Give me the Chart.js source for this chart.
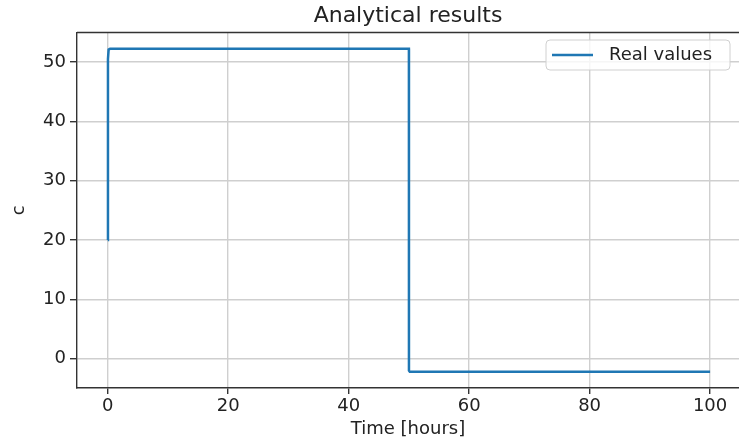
<!DOCTYPE html>
<html>
<head>
<meta charset="utf-8">
<script src="https://cdn.jsdelivr.net/npm/chart.js@4.4.0/dist/chart.umd.min.js"></script>
<style>
  html, body { margin: 0; padding: 0; background: #ffffff; }
  #wrap { width: 739px; height: 443px; }
</style>
</head>
<body>
<div id="wrap"><canvas id="c" width="739" height="443"></canvas></div>
<script>
// ---- data ----
const chartTitle = "Analytical results";
const seriesLabel = "Real values";
const xTitle = "Time [hours]";
const yTitle = "c";
const times  = [0, 0.04, 0.15, 0.4, 50, 50.01, 50.15, 100];
const values = [20, 50.5, 52.1, 52.26, 52.26, -2.0, -2.2, -2.2];
const xTicks = [0, 20, 40, 60, 80, 100];
const yTicks = [0, 10, 20, 30, 40, 50];

const FONT = "DejaVu Sans";
const points = times.map((t, i) => ({ x: t, y: values[i] }));

const frame = {
  id: 'frame',
  afterDraw(chart) {
    const { ctx, chartArea: a } = chart;
    ctx.save();
    // title centred over the plot area
    ctx.fillStyle = '#222222';
    ctx.font = '22px "' + FONT + '"';
    ctx.textAlign = 'center';
    ctx.textBaseline = 'middle';
    ctx.fillText(chartTitle, (a.left + a.right) / 2, 16);
    // top spine
    ctx.strokeStyle = '#333333';
    ctx.lineWidth = 1.4;
    ctx.beginPath();
    ctx.moveTo(a.left, a.top);
    ctx.lineTo(a.right, a.top);
    ctx.stroke();
    // legend box
    const ds = chart.data.datasets[0];
    const bx = 546, by = 40, bw = 184, bh = 30, r = 4;
    ctx.beginPath();
    ctx.moveTo(bx + r, by);
    ctx.lineTo(bx + bw - r, by);
    ctx.quadraticCurveTo(bx + bw, by, bx + bw, by + r);
    ctx.lineTo(bx + bw, by + bh - r);
    ctx.quadraticCurveTo(bx + bw, by + bh, bx + bw - r, by + bh);
    ctx.lineTo(bx + r, by + bh);
    ctx.quadraticCurveTo(bx, by + bh, bx, by + bh - r);
    ctx.lineTo(bx, by + r);
    ctx.quadraticCurveTo(bx, by, bx + r, by);
    ctx.closePath();
    ctx.fillStyle = 'rgba(255,255,255,0.8)';
    ctx.fill();
    ctx.strokeStyle = '#d0d0d0';
    ctx.lineWidth = 1;
    ctx.stroke();
    ctx.strokeStyle = ds.borderColor;
    ctx.lineWidth = 2.5;
    ctx.beginPath();
    ctx.moveTo(552, 55);
    ctx.lineTo(593, 55);
    ctx.stroke();
    ctx.fillStyle = '#222222';
    ctx.font = '18px "' + FONT + '"';
    ctx.textBaseline = 'middle';
    ctx.textAlign = 'left';
    ctx.fillText(ds.label, 609, 55);
    ctx.restore();
  }
};

new Chart(document.getElementById('c'), {
  type: 'line',
  data: {
    datasets: [{
      label: seriesLabel,
      data: points,
      borderColor: '#1f77b4',
      backgroundColor: '#1f77b4',
      borderWidth: 2.5,
      pointRadius: 0,
      tension: 0,
      fill: false,
      borderJoinStyle: 'miter'
    }]
  },
  options: {
    responsive: false,
    animation: false,
    devicePixelRatio: 1,
    layout: { padding: { left: 0, right: 0, top: 32.5, bottom: 0 } },
    plugins: {
      legend: { display: false },
      tooltip: { enabled: false },
      title: { display: false }
    },
    scales: {
      x: {
        type: 'linear',
        min: -5.1,
        max: 104.8,
        afterBuildTicks: s => { s.ticks = xTicks.map(v => ({ value: v })); },
        afterFit: s => { s.height = 55; },
        grid: { color: '#cfcfcf', lineWidth: 1.4, tickColor: '#333333', tickLength: 6, drawOnChartArea: true },
        border: { color: '#333333', width: 1.4 },
        ticks: { color: '#222222', font: { family: FONT, size: 18 }, padding: 2, maxRotation: 0 },
        title: { display: true, text: xTitle, color: '#222222', font: { family: FONT, size: 18 }, padding: { top: 0, bottom: 3 } }
      },
      y: {
        type: 'linear',
        min: -4.92,
        max: 54.98,
        afterBuildTicks: s => { s.ticks = yTicks.map(v => ({ value: v })); },
        afterFit: s => { s.width = 77; },
        grid: { color: '#cfcfcf', lineWidth: 1.4, tickColor: '#333333', tickLength: 7 },
        border: { color: '#333333', width: 1.4 },
        ticks: { color: '#222222', font: { family: FONT, size: 18 }, padding: 4 },
        title: { display: true, text: yTitle, color: '#222222', font: { family: FONT, size: 18 }, padding: { top: 9, bottom: 0 } }
      }
    }
  },
  plugins: [frame]
});
</script>
</body>
</html>
